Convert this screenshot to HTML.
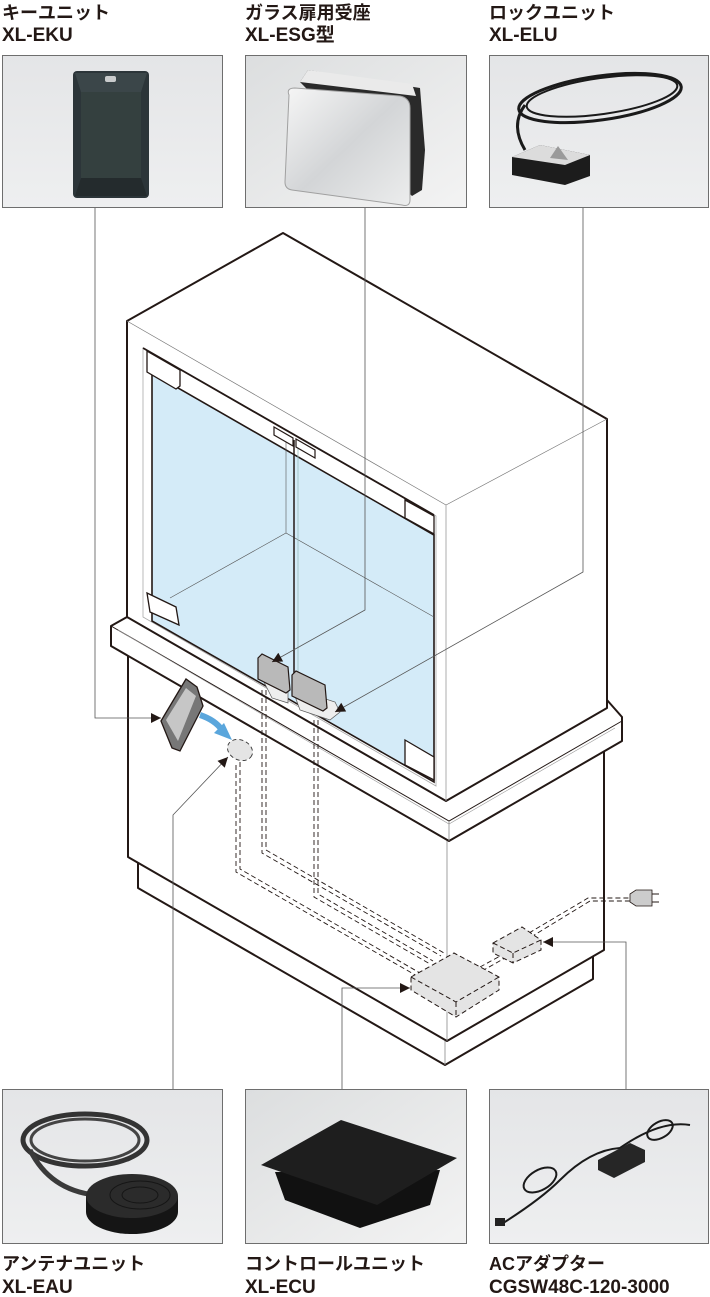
<!DOCTYPE html>
<html><head><meta charset="utf-8"><style>
html,body{margin:0;padding:0;background:#fff}
svg{display:block}
text{font-family:"Liberation Sans","Noto Sans CJK JP",sans-serif;font-weight:bold;fill:#231815}
</style></head><body>
<svg width="710" height="1297" viewBox="0 0 710 1297" xmlns="http://www.w3.org/2000/svg">
<defs>
<linearGradient id="bg" x1="0" y1="0" x2="0" y2="1"><stop offset="0" stop-color="#e4e5e7"/><stop offset="1" stop-color="#eeeff0"/></linearGradient>
<linearGradient id="bg2" x1="0" y1="0" x2="1" y2="1"><stop offset="0" stop-color="#dcdedf"/><stop offset="1" stop-color="#f3f3f3"/></linearGradient>
<linearGradient id="chrome" x1="0" y1="0" x2="1" y2="1"><stop offset="0" stop-color="#f6f6f6"/><stop offset=".5" stop-color="#d3d5d7"/><stop offset="1" stop-color="#eceded"/></linearGradient>
<marker id="ah" viewBox="0 0 10 10" refX="10" refY="5" markerWidth="12" markerHeight="10" orient="auto" markerUnits="userSpaceOnUse"><path d="M0,0 L10,5 L0,10 z" fill="#231815"/></marker>
</defs>

<!-- labels -->
<text x="2" y="19" font-size="18">キーユニット</text>
<text x="2" y="41" font-size="19">XL-EKU</text>
<text x="245" y="19" font-size="18">ガラス扉用受座</text>
<text x="245" y="41" font-size="19">XL-ESG型</text>
<text x="489" y="19" font-size="18">ロックユニット</text>
<text x="489" y="41" font-size="19">XL-ELU</text>
<text x="2" y="1270" font-size="18">アンテナユニット</text>
<text x="2" y="1293" font-size="19">XL-EAU</text>
<text x="245" y="1270" font-size="18">コントロールユニット</text>
<text x="245" y="1293" font-size="19">XL-ECU</text>
<text x="489" y="1270" font-size="18">ACアダプター</text>
<text x="489" y="1293" font-size="19">CGSW48C-120-3000</text>

<!-- photo boxes top -->
<rect x="2.5" y="55.5" width="220" height="152" fill="url(#bg)" stroke="#6e6e6e"/>
<rect x="245.5" y="55.5" width="221" height="152" fill="url(#bg2)" stroke="#6e6e6e"/>
<rect x="489.5" y="55.5" width="219" height="152" fill="url(#bg)" stroke="#6e6e6e"/>
<!-- key card -->
<rect x="73" y="71" width="76" height="127" rx="4" fill="#2c3539"/>
<polygon points="81,92 141,92 141,178 81,178" fill="#34403f"/>
<polygon points="75,73 147,73 141,92 81,92" fill="#3b4649"/>
<polygon points="75,196 147,196 141,178 81,178" fill="#242b2d"/>
<rect x="105" y="76" width="11" height="6" rx="2" fill="#c9cbcc"/>
<!-- ESG -->
<polygon points="300,82 308,70 420,88 425,150 422,190 412,196" fill="#2a2a2a"/>
<polygon points="300,82 308,70 412,84 416,96" fill="#eaeaea"/>
<path d="M289,95 Q286,88 295,88 L400,96 Q410,98 410,108 L410,200 Q410,207 402,205 L292,190 Q285,189 285,182 Z" fill="url(#chrome)" stroke="#a0a0a0"/>
<!-- lock unit -->
<ellipse cx="600" cy="98" rx="82" ry="22" fill="none" stroke="#1a1a1a" stroke-width="3" transform="rotate(-8 600 98)"/>
<ellipse cx="602" cy="96" rx="76" ry="18" fill="none" stroke="#1a1a1a" stroke-width="2" transform="rotate(-8 602 96)"/>
<path d="M525,105 Q510,125 525,150" stroke="#1a1a1a" stroke-width="3" fill="none"/>
<polygon points="512,157 540,145 590,155 590,176 565,185 512,175" fill="#1c1c1c"/>
<polygon points="512,157 540,145 590,155 565,165" fill="#dcdcdc"/>
<polygon points="550,158 558,146 568,160" fill="#9a9a9a"/>

<!-- photo boxes bottom -->
<rect x="2.5" y="1089.5" width="220" height="154" fill="url(#bg)" stroke="#6e6e6e"/>
<rect x="245.5" y="1089.5" width="221" height="154" fill="url(#bg2)" stroke="#6e6e6e"/>
<rect x="489.5" y="1089.5" width="219" height="154" fill="url(#bg)" stroke="#6e6e6e"/>
<!-- antenna -->
<ellipse cx="85" cy="1140" rx="62" ry="26" fill="none" stroke="#333" stroke-width="5"/>
<ellipse cx="85" cy="1140" rx="54" ry="21" fill="none" stroke="#444" stroke-width="3"/>
<path d="M30,1150 Q50,1190 95,1195" stroke="#3a3a3a" stroke-width="5" fill="none"/>
<ellipse cx="132" cy="1212" rx="46" ry="22" fill="#151515"/>
<rect x="86" y="1196" width="92" height="16" fill="#151515"/>
<ellipse cx="132" cy="1196" rx="46" ry="22" fill="#2b2b2b"/>
<ellipse cx="140" cy="1195" rx="30" ry="14" fill="none" stroke="#151515"/>
<ellipse cx="140" cy="1195" rx="18" ry="8" fill="none" stroke="#151515"/>
<!-- control unit -->
<polygon points="275,1172 285,1200 360,1228 430,1205 440,1170" fill="#111"/>
<polygon points="261,1165 341,1120 457,1158 377,1205" fill="#1e1e1e"/>
<!-- AC adapter -->
<path d="M500,1225 Q540,1200 560,1180 Q590,1150 620,1148 Q660,1120 690,1125" stroke="#1a1a1a" stroke-width="2" fill="none"/>
<ellipse cx="540" cy="1180" rx="18" ry="10" fill="none" stroke="#1a1a1a" stroke-width="2" transform="rotate(-30 540 1180)"/>
<ellipse cx="660" cy="1130" rx="14" ry="8" fill="none" stroke="#1a1a1a" stroke-width="2" transform="rotate(-30 660 1130)"/>
<polygon points="598,1160 630,1143 645,1150 645,1162 614,1178 598,1170" fill="#262626"/>
<rect x="495" y="1218" width="10" height="8" fill="#222"/>

<!-- plinth -->
<polygon points="138,850 138,888 445,1065 593,979 593,930" fill="#fff" stroke="#231815" stroke-width="2" stroke-linejoin="round"/>
<line x1="445" y1="1041" x2="445" y2="1065" stroke="#888" stroke-width="0.8"/>
<!-- lower body -->
<polygon points="128,640 128,857 447,1041 604,950 604,745" fill="#fff" stroke="#231815" stroke-width="2" stroke-linejoin="round"/>
<line x1="447" y1="840" x2="447" y2="1041" stroke="#888" stroke-width="0.8"/>
<!-- ledge -->
<polygon points="111,626 127,617 607,700 622,717 622,741 449,841 111,646" fill="#fff" stroke="#231815" stroke-width="2" stroke-linejoin="round"/>
<polyline points="111,626 449,821 622,721" fill="none" stroke="#231815" stroke-width="1"/>
<polyline points="118,630 449,824 615,728" fill="none" stroke="#999" stroke-width="0.6"/>
<line x1="449" y1="821" x2="449" y2="841" stroke="#888" stroke-width="0.8"/>

<!-- cabinet -->
<polygon points="127,321 283,233 607,419 607,708 446,801 127,617" fill="#fff" stroke="#231815" stroke-width="2" stroke-linejoin="round"/>
<polyline points="127,321 446,505 607,419" fill="none" stroke="#777" stroke-width="0.7"/>
<line x1="446" y1="505" x2="446" y2="801" stroke="#999" stroke-width="0.8"/>
<!-- opening -->
<polygon points="143,348 436,516 436,786 143,617" fill="#fff" stroke="#aaa" stroke-width="0.8"/>
<polygon points="152,373 434,535 434,782 152,621" fill="#d4ebf8" stroke="#231815" stroke-width="1.6"/>
<line x1="143" y1="348" x2="434" y2="515" stroke="#231815" stroke-width="1.8"/>
<!-- interior -->
<polyline points="170,598 286,533 434,617" fill="none" stroke="#555" stroke-width="0.6"/>
<line x1="286" y1="440" x2="286" y2="533" stroke="#555" stroke-width="0.6"/>
<line x1="294" y1="440" x2="294" y2="682" stroke="#231815" stroke-width="1.5"/>
<line x1="298" y1="442" x2="298" y2="684" stroke="#9bb" stroke-width="0.8"/>
<!-- fittings -->
<polygon points="147,351 180,370 180,386 176,389 147,372" fill="#fff" stroke="#231815" stroke-width="1.3"/>
<polygon points="274,427 293,438 293,446 274,435" fill="#fff" stroke="#231815" stroke-width="1.2"/>
<polygon points="296,439 315,450 315,458 296,447" fill="#fff" stroke="#231815" stroke-width="1.2"/>
<polygon points="405,500 434,516 434,534 405,518" fill="#fff" stroke="#231815" stroke-width="1.3"/>
<polygon points="147,593 176,607 179,625 150,612" fill="#fff" stroke="#231815" stroke-width="1.3"/>
<polygon points="405,740 434,757 434,780 405,765" fill="#fff" stroke="#231815" stroke-width="1.3"/>
<!-- ESG fittings -->
<polygon points="258,670 272,698 288,703 288,688 260,672" fill="#eee" stroke="#555" stroke-width="0.7"/>
<polygon points="258,658 262,654 288,667 290,690 286,693 258,679" fill="#b9b9b9" stroke="#231815" stroke-width="1.2"/>
<polygon points="292,688 300,710 330,720 340,712 335,702" fill="#eee" stroke="#555" stroke-width="0.7"/>
<polygon points="292,675 296,671 325,685 327,708 323,711 292,696" fill="#b9b9b9" stroke="#231815" stroke-width="1.2"/>

<!-- key card on body -->
<polygon points="161,721 186,679 197,687 203,706 180,751 172,748" fill="#777" stroke="#231815" stroke-width="1.3"/>
<polygon points="166,720 186,688 196,696 178,741" fill="#c6c6c6"/>
<path d="M200,715 Q215,720 222,730" stroke="#5aa6dc" stroke-width="6" fill="none"/>
<polygon points="214,733 232,740 224,723" fill="#5aa6dc"/>
<!-- antenna spot -->
<ellipse cx="240" cy="750" rx="13" ry="10" fill="#e4e4e4" stroke="#333" stroke-width="0.9" stroke-dasharray="4,3" transform="rotate(25 240 750)"/>

<!-- cables (double dashed) -->
<g fill="none" stroke="#231815" stroke-width="0.9" stroke-dasharray="5,3">
<polyline points="262,690 262,853 441,956"/><polyline points="266,690 266,850 444,953"/>
<polyline points="314,720 314,897 430,964"/><polyline points="318,720 318,894 433,961"/>
<polyline points="236,765 236,872 417,976"/><polyline points="240,762 240,869 420,973"/>
<polyline points="480,967 502,955"/><polyline points="482,971 505,958"/>
<polyline points="529,933 588,898 630,898"/><polyline points="531,937 590,901 630,901"/>
</g>
<!-- control box -->
<g stroke="#231815" stroke-width="1" stroke-dasharray="5,3">
<polygon points="411,977 454,953 499,977 499,990 456,1017 411,990" fill="#e4e4e4"/>
<polyline points="411,977 456,1002 499,977" fill="none"/>
<line x1="456" y1="1002" x2="456" y2="1017"/>
<polygon points="493,943 522,927 541,940 541,950 513,963 493,953" fill="#e4e4e4"/>
<polyline points="493,943 513,953 541,940" fill="none"/>
<line x1="513" y1="953" x2="513" y2="963"/>
</g>
<!-- plug -->
<polygon points="630,894 636,890 652,890 652,906 636,906 630,902" fill="#ccc" stroke="#231815" stroke-width="0.8"/>
<line x1="652" y1="894" x2="659" y2="894" stroke="#231815"/><line x1="652" y1="902" x2="659" y2="902" stroke="#231815"/>

<!-- leader lines -->
<g fill="none" stroke="#555" stroke-width="0.8">
<polyline points="95,208 95,718 161,718" marker-end="url(#ah)"/>
<polyline points="365,208 365,610 272,662" marker-end="url(#ah)"/>
<polyline points="583,208 583,572 335,712" marker-end="url(#ah)"/>
<polyline points="173,1089 173,815 228,757" marker-end="url(#ah)"/>
<polyline points="342,1089 342,988 410,988" marker-end="url(#ah)"/>
<polyline points="626,1089 626,942 543,942" marker-end="url(#ah)"/>
</g>
</svg>
</body></html>
